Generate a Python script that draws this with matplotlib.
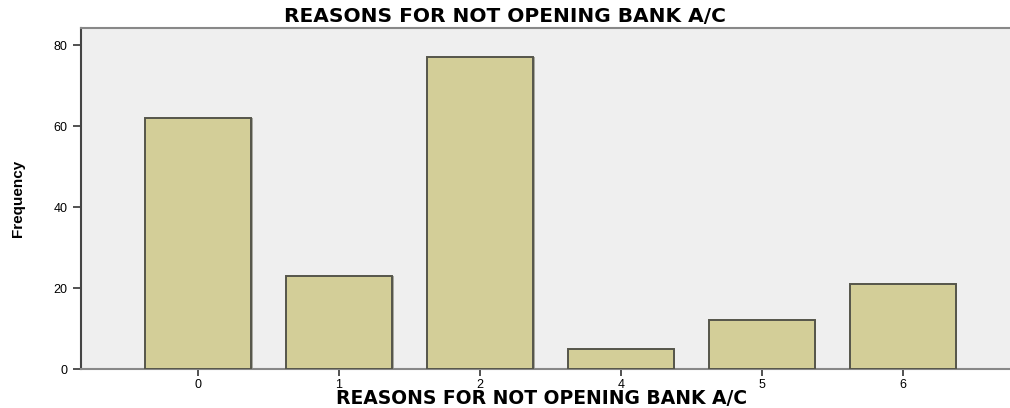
import numpy as np
import matplotlib
matplotlib.use('Agg')
import matplotlib.pyplot as plt

# data
categories = ['0', '1', '2', '4', '5', '6']
frequency = [62, 23, 77, 5, 12, 21]

title = 'REASONS FOR NOT OPENING BANK A/C'

plt.rcParams['font.family'] = ['Liberation Sans', 'DejaVu Sans']

fig = plt.figure(figsize=(10.10, 4.08), dpi=100)
fig.patch.set_facecolor('white')
ax = fig.add_axes([81 / 1010, 1 - 369 / 408, (1010 - 81) / 1010, (369 - 28) / 408])
ax.set_facecolor('#efefef')

x = np.arange(len(categories))
# soft shadow on the right side of each bar
ax.bar(x + 0.012, frequency, width=0.75, color='#a8a8a0', edgecolor='none', zorder=2)
ax.bar(x, frequency, width=0.75, color='#d3ce98', edgecolor='#55554a', linewidth=1.4, zorder=3)

ax.set_xlim(-0.83, 5.76)
ax.set_ylim(0, 84.2)
ax.set_xticks(x)
ax.set_xticklabels(categories)
ax.set_yticks([0, 20, 40, 60, 80])

ax.tick_params(axis='both', labelsize=9, color='#333333', length=6, width=1.2)
ax.tick_params(axis='x', length=5, pad=2)

for side in ['top', 'bottom', 'right']:
    ax.spines[side].set_color('#888888')
    ax.spines[side].set_linewidth(1.5)
ax.spines['right'].set_visible(False)
ax.spines['left'].set_color('#444444')
ax.spines['left'].set_linewidth(1.5)

# wide bold font for the headings, like the reference
wide = ['DejaVu Sans']
ax.set_xlabel(title, fontsize=13.5, fontweight='bold', family=wide, va='center')
ax.xaxis.set_label_coords((542 - 81) / 929, (369 - 399) / 341)
ax.set_ylabel('Frequency', fontsize=11, fontweight='bold', va='center',
              family=['Liberation Sans Narrow', 'Liberation Sans', 'DejaVu Sans'])
ax.yaxis.set_label_coords((18 - 81) / 929, (369 - 198) / 341)
fig.text(505 / 1010, 1 - 17 / 408, title, ha='center', va='center',
         fontsize=14.5, fontweight='bold', family=wide)

fig.savefig('out.png', dpi=100)
